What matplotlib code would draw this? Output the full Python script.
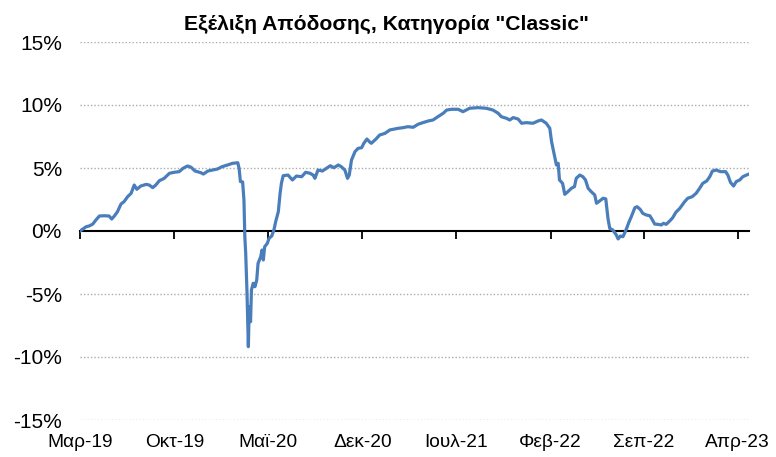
import matplotlib
matplotlib.use("Agg")
import matplotlib.pyplot as plt
import pandas as pd
from matplotlib.ticker import FuncFormatter

plt.rcParams['font.family'] = ['Liberation Sans', 'DejaVu Sans']

title = 'Εξέλιξη Απόδοσης, Κατηγορία "Classic"'

dates = [
    "2019-03-01", "2019-03-15", "2019-03-22", "2019-03-30", "2019-04-06", "2019-04-14",
    "2019-04-25", "2019-05-06", "2019-05-12", "2019-05-18", "2019-05-25", "2019-06-02",
    "2019-06-09", "2019-06-17", "2019-06-25", "2019-07-02", "2019-07-08", "2019-07-17",
    "2019-07-29", "2019-08-05", "2019-08-13", "2019-08-20", "2019-08-28", "2019-09-08",
    "2019-09-20", "2019-10-01", "2019-10-12", "2019-10-21", "2019-10-31", "2019-11-08",
    "2019-11-17", "2019-11-30", "2019-12-06", "2019-12-16", "2019-12-27", "2020-01-07",
    "2020-01-17", "2020-01-30", "2020-02-10", "2020-02-22", "2020-02-25", "2020-02-28",
    "2020-03-04", "2020-03-07", "2020-03-09", "2020-03-11", "2020-03-14", "2020-03-17",
    "2020-03-19", "2020-03-22", "2020-03-24", "2020-03-28", "2020-04-01", "2020-04-05",
    "2020-04-08", "2020-04-14", "2020-04-17", "2020-04-20", "2020-04-23", "2020-04-29",
    "2020-05-03", "2020-05-09", "2020-05-14", "2020-05-18", "2020-05-24", "2020-05-28",
    "2020-05-31", "2020-06-04", "2020-06-15", "2020-06-25", "2020-07-04", "2020-07-16",
    "2020-07-25", "2020-08-04", "2020-08-11", "2020-08-15", "2020-08-22", "2020-09-01",
    "2020-09-10", "2020-09-19", "2020-09-27", "2020-10-07", "2020-10-14", "2020-10-22",
    "2020-10-28", "2020-11-01", "2020-11-06", "2020-11-14", "2020-11-21", "2020-11-29",
    "2020-12-04", "2020-12-11", "2020-12-18", "2020-12-21", "2020-12-31", "2021-01-09",
    "2021-01-21", "2021-02-01", "2021-02-08", "2021-02-20", "2021-03-03", "2021-03-14",
    "2021-03-26", "2021-04-06", "2021-04-17", "2021-04-29", "2021-05-10", "2021-05-21",
    "2021-06-02", "2021-06-10", "2021-06-21", "2021-07-06", "2021-07-17", "2021-08-01",
    "2021-08-20", "2021-09-08", "2021-09-23", "2021-10-05", "2021-10-12", "2021-10-24",
    "2021-10-31", "2021-11-08", "2021-11-19", "2021-11-27", "2021-12-08", "2021-12-23",
    "2022-01-03", "2022-01-11", "2022-01-22", "2022-01-30", "2022-02-03", "2022-02-10",
    "2022-02-14", "2022-02-18", "2022-02-21", "2022-02-28", "2022-03-05", "2022-03-12",
    "2022-03-20", "2022-03-27", "2022-03-31", "2022-04-08", "2022-04-15", "2022-04-21",
    "2022-04-27", "2022-05-04", "2022-05-12", "2022-05-16", "2022-05-23", "2022-05-31",
    "2022-06-06", "2022-06-11", "2022-06-15", "2022-06-22", "2022-06-30", "2022-07-04",
    "2022-07-09", "2022-07-15", "2022-07-21", "2022-07-29", "2022-08-03", "2022-08-11",
    "2022-08-16", "2022-08-23", "2022-08-29", "2022-09-06", "2022-09-14", "2022-09-20",
    "2022-09-25", "2022-10-02", "2022-10-10", "2022-10-15", "2022-10-21", "2022-10-29",
    "2022-11-05", "2022-11-12", "2022-11-21", "2022-12-02", "2022-12-09", "2022-12-19",
    "2022-12-28", "2023-01-05", "2023-01-12", "2023-01-21", "2023-01-28", "2023-02-03",
    "2023-02-12", "2023-02-21", "2023-03-05", "2023-03-10", "2023-03-16", "2023-03-23",
    "2023-03-29", "2023-04-06", "2023-04-13", "2023-04-21", "2023-04-27",
]

returns = [
    0.00, 0.34, 0.40, 0.55, 0.87, 1.19,
    1.21, 1.19, 0.95, 1.19, 1.53, 2.14,
    2.33, 2.72, 2.99, 3.65, 3.31, 3.57,
    3.70, 3.65, 3.44, 3.65, 3.99, 4.18,
    4.58, 4.66, 4.71, 4.98, 5.16, 5.06,
    4.76, 4.63, 4.52, 4.76, 4.84, 4.92,
    5.10, 5.24, 5.37, 5.42, 4.97, 3.92,
    3.90, 2.46, -0.45, -1.77, -4.95, -9.18,
    -6.00, -7.20, -4.68, -4.15, -4.42, -3.89,
    -2.57, -2.04, -1.51, -2.30, -1.25, -0.98,
    -0.58, -0.40, 0.08, 0.74, 1.53, 2.99,
    3.78, 4.39, 4.44, 4.05, 4.36, 4.31,
    4.66, 4.58, 4.44, 4.18, 4.84, 4.76,
    4.97, 5.18, 5.02, 5.24, 5.10, 4.84,
    4.18, 4.44, 5.63, 6.30, 6.56, 6.61,
    6.96, 7.30, 7.04, 6.96, 7.28, 7.62,
    7.75, 8.02, 8.07, 8.15, 8.20, 8.28,
    8.23, 8.47, 8.60, 8.73, 8.81, 9.07,
    9.34, 9.60, 9.66, 9.66, 9.47, 9.74,
    9.79, 9.74, 9.60, 9.34, 9.07, 8.94,
    8.81, 9.00, 8.89, 8.55, 8.60, 8.55,
    8.73, 8.81, 8.55, 8.15, 7.09, 5.90,
    5.24, 5.37, 4.05, 3.78, 2.91, 3.12,
    3.39, 3.52, 4.18, 4.44, 4.31, 4.05,
    3.39, 3.12, 2.86, 2.20, 2.38, 2.60,
    2.55, 1.00, 0.21, 0.08, -0.32, -0.63,
    -0.40, -0.45, 0.00, 0.74, 1.14, 1.85,
    1.93, 1.72, 1.40, 1.27, 1.21, 0.87,
    0.55, 0.53, 0.48, 0.61, 0.53, 0.79,
    1.06, 1.48, 1.80, 2.33, 2.60, 2.72,
    2.99, 3.39, 3.78, 3.97, 4.31, 4.76,
    4.84, 4.71, 4.71, 4.44, 3.86, 3.57,
    3.92, 4.05, 4.31, 4.44, 4.52,
]

tick_dates = ["2019-03-01", "2019-10-01", "2020-05-01", "2020-12-01",
              "2021-07-01", "2022-02-01", "2022-09-01", "2023-04-01"]
tick_labels = ["Μαρ-19", "Οκτ-19", "Μαϊ-20", "Δεκ-20",
               "Ιουλ-21", "Φεβ-22", "Σεπ-22", "Απρ-23"]
y_ticks = [-15, -10, -5, 0, 5, 10, 15]

x = pd.to_datetime(dates)
tx = pd.to_datetime(tick_dates)

fig = plt.figure(figsize=(7.76, 4.57), dpi=100)
ax = fig.add_axes([80 / 776, 1 - 420 / 457, (749 - 80) / 776, (420 - 42) / 457])

ax.set_ylim(-15, 15)
ax.set_xlim(x[0], x[-1])
ax.set_yticks(y_ticks)
ax.yaxis.set_major_formatter(FuncFormatter(lambda v, p: f"{int(v)}%"))
ax.tick_params(axis='y', length=0, labelsize=15, pad=13)

for v in y_ticks:
    if v != 0:
        ax.axhline(v, color='#ababab', linestyle=(0, (1, 1.5)), linewidth=1.0, zorder=1)

ax.plot(x, returns, color='#4a7ebb', linewidth=2.3, zorder=3, solid_joinstyle='round')

for s in ['left', 'right', 'top']:
    ax.spines[s].set_visible(False)
ax.spines['bottom'].set_position(('data', 0))
ax.spines['bottom'].set_linewidth(1.5)
ax.spines['bottom'].set_zorder(2)
ax.set_xticks(tx)
ax.tick_params(axis='x', direction='out', length=6, width=1.3, labelbottom=False)

sec = ax.secondary_xaxis('bottom')
sec.set_xticks(tx)
sec.set_xticklabels(tick_labels, fontsize=13.8)
sec.spines['bottom'].set_visible(False)
sec.tick_params(axis='x', length=0, pad=10)

fig.suptitle(title, fontsize=15.2, fontweight='bold', x=0.498,
             y=1 - 15 / 457, va='top')

fig.savefig("out.png", dpi=100)
